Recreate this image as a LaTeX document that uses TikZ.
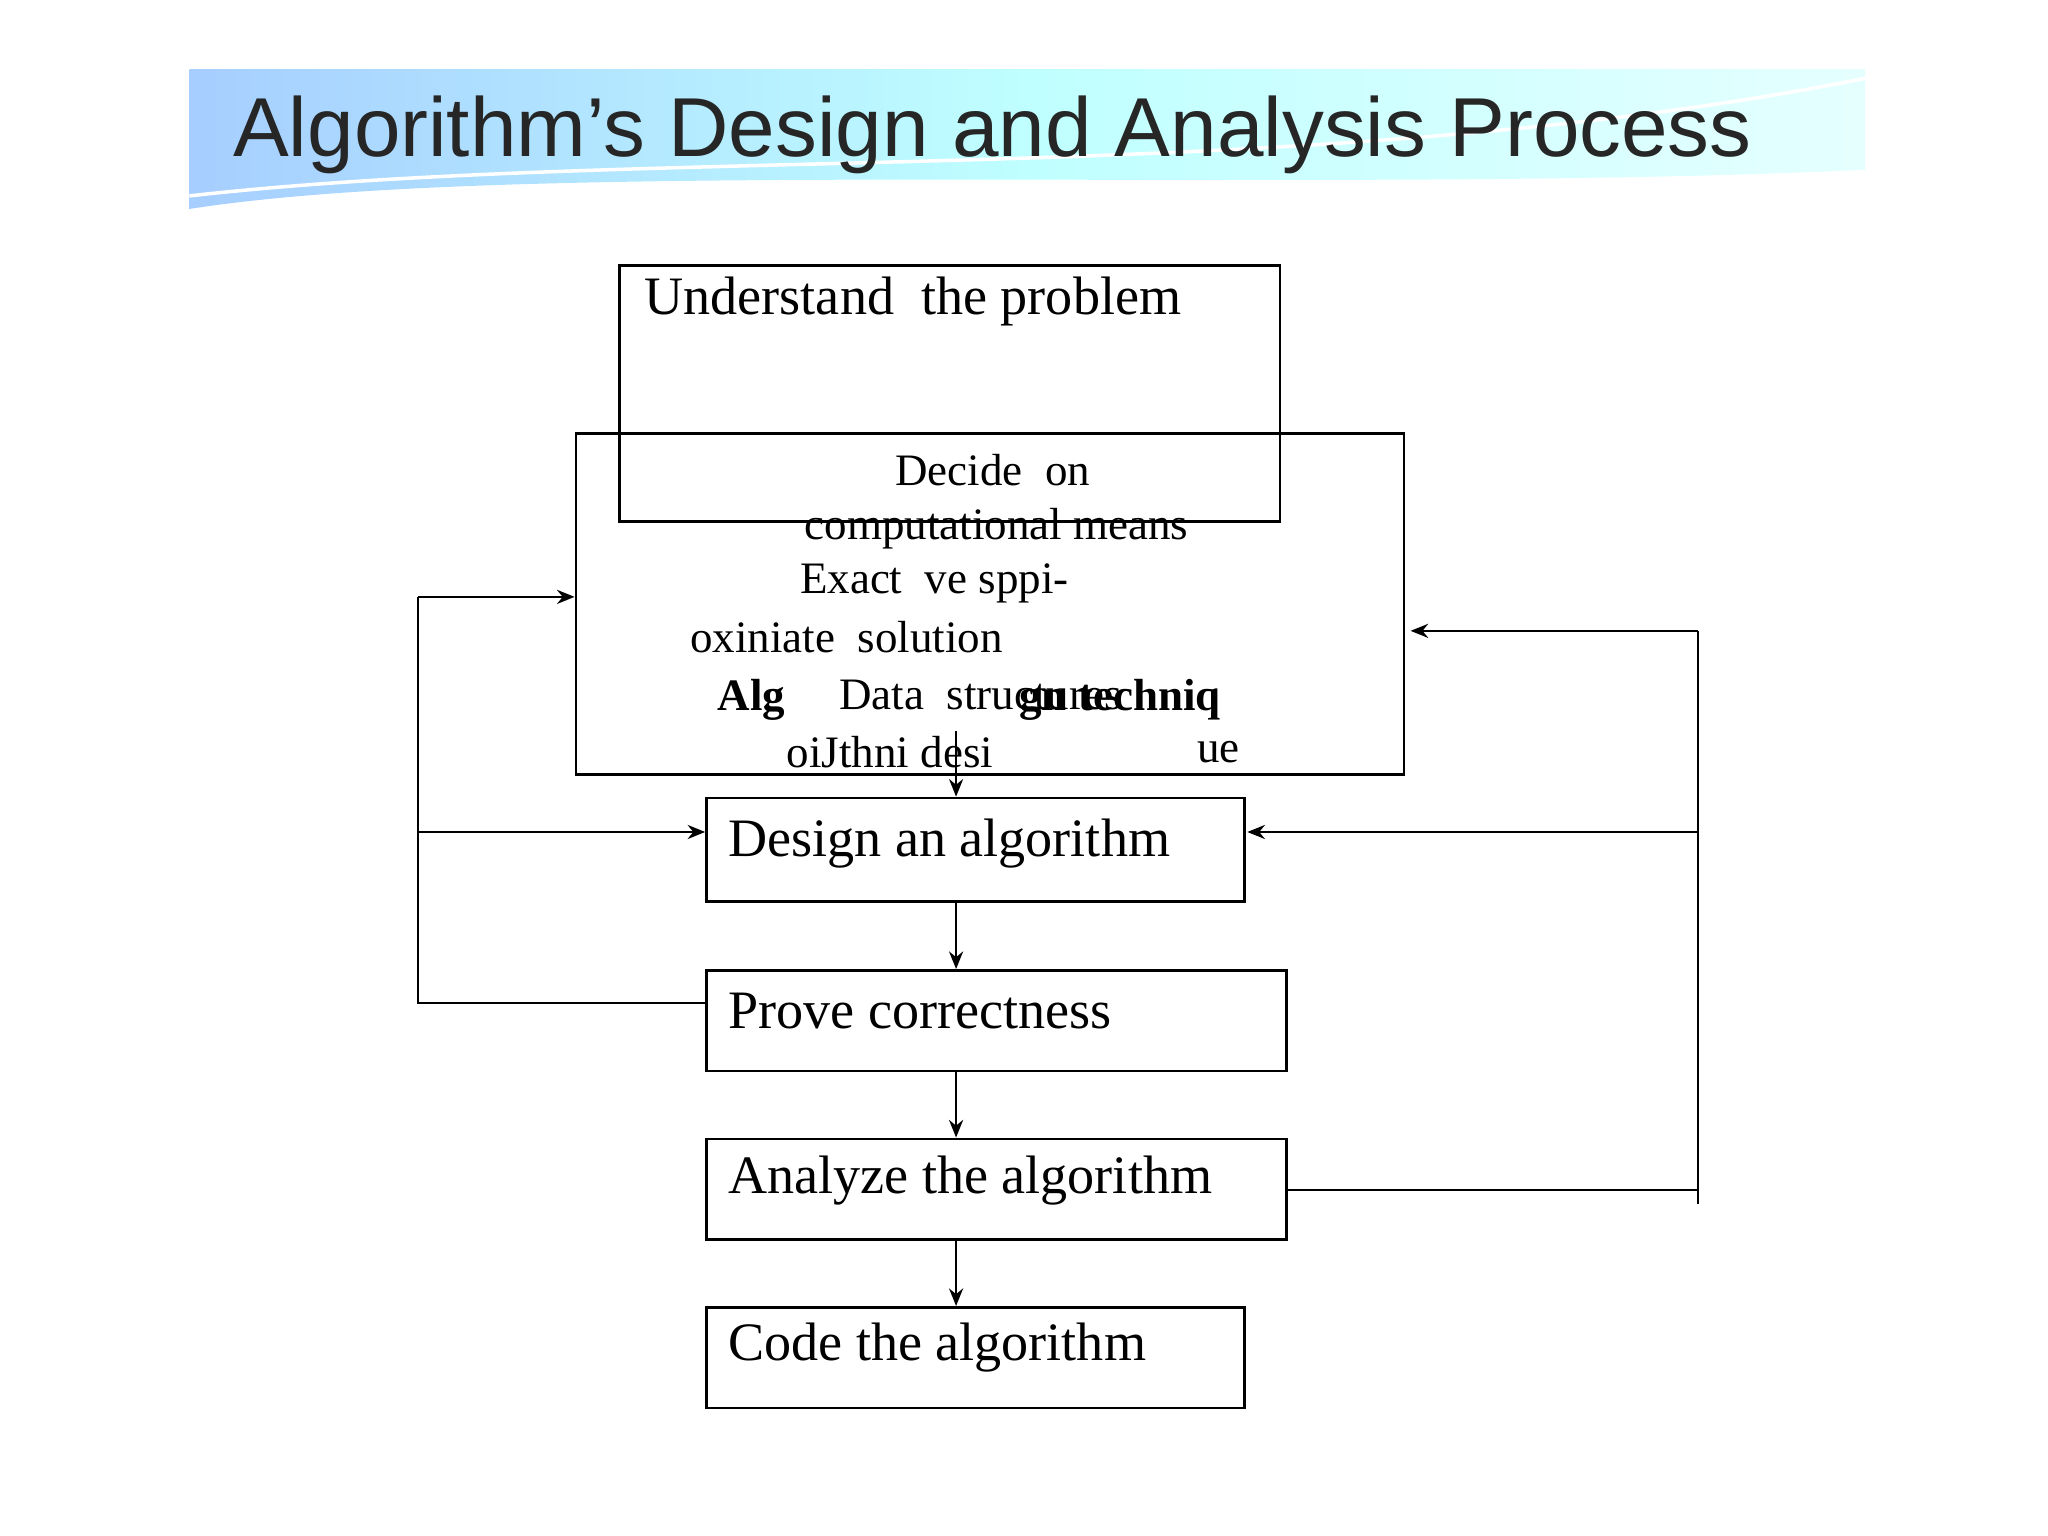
\documentclass[tikz,border=0pt]{standalone}
\usepackage{fontspec}
\setmainfont{Liberation Serif}
\newfontfamily\hdfont{Liberation Sans}
\usetikzlibrary{arrows.meta}
\begin{document}
\begin{tikzpicture}[x=0.01306cm,y=-0.01306cm,
  box/.style={draw,line width=0.8pt},
  big/.style={anchor=west,font=\fontsize{15.4}{17}\selectfont,inner sep=0},
  sml/.style={font=\fontsize{12.8}{14}\selectfont,inner sep=0},
  arr/.style={-{Stealth[length=5pt,width=4pt]},line width=0.7pt},
  ln/.style={line width=0.7pt}]
\useasboundingbox (0,0) rectangle (1568,1176);
% header
\shade[left color=cyan!45!blue!35,right color=cyan!10,middle color=cyan!25]
  (145,53) -- (1428,53) -- (1428,130) .. controls (1000,150) and (400,120) .. (145,160) -- cycle;
\draw[white,line width=1pt] (145,150) .. controls (500,110) and (1000,145) .. (1428,60);
\node[font=\hdfont\fontsize{23.8}{26}\selectfont,text=black!85,anchor=west,inner sep=0] (title) at (178,103) {Algorithm’s Design and Analysis Process};
% boxes
\node[box,minimum width=506*0.01306cm,minimum height=196*0.01306cm] (und) at (727,301) {};
\node[box,minimum width=634*0.01306cm,minimum height=261*0.01306cm] (dec) at (758,462.5) {};
\node[box,minimum width=412*0.01306cm,minimum height=79*0.01306cm] (des) at (747,650.5) {};
\node[box,minimum width=444*0.01306cm,minimum height=77*0.01306cm] (pro) at (763,781.5) {};
\node[box,minimum width=444*0.01306cm,minimum height=77*0.01306cm] (ana) at (763,910.5) {};
\node[box,minimum width=412*0.01306cm,minimum height=77*0.01306cm] (cod) at (747,1039.5) {};
% texts
\node[big] (t1) at (493,231) {Understand\ \ the problem};
\node[big] (t2) at (557,646) {Design an algorithm};
\node[big] (t3) at (557,774) {Prove correctness};
\node[big] (t4) at (557,904) {Analyze the algorithm};
\node[big] (t5) at (557,1032) {Code the algorithm};
\node[sml] (d1) at (760,360) {Decide\ \ on};
\node[sml] (d2) at (763,405) {computational means};
\node[sml,anchor=west] (d3) at (612,447) {Exact\ \ ve sppi-};
\node[sml,anchor=west] (d4) at (528,488) {oxiniate\ \ solution};
\node[sml,anchor=west,font=\bfseries\fontsize{12.8}{14}\selectfont] (d5) at (549,536) {Alg};
\node[sml,anchor=west] (d6) at (642,532) {Data\ \ structures};
\node[sml,anchor=west,font=\bfseries\fontsize{12.8}{14}\selectfont] (d7) at (780,536) {gn techniq};
\node[sml,anchor=west] (d8) at (602,576) {oiJthni desi};
\node[sml,anchor=west] (d9) at (916,576) {ue};
% arrows
\coordinate (s0) at (732,560);
\draw[arr] (s0) -- (des.north -| s0);
\draw[arr] (des.south -| s0) -- (pro.north -| s0);
\draw[arr] (pro.south -| s0) -- (ana.north -| s0);
\draw[arr] (ana.south -| s0) -- (cod.north -| s0);
\coordinate (l1) at (320,768); \coordinate (l2) at (320,457); \coordinate (l3) at (320,637);
\draw[ln] (pro.west |- l1) -- (l1) -- (l2);
\draw[arr] (l2) -- (dec.west |- l2);
\draw[arr] (l3) -- (des.west |- l3);
\coordinate (r1) at (1300,911); \coordinate (r2) at (1300,483); \coordinate (r3) at (1300,637); \coordinate (r4) at (1300,922);
\coordinate (r5) at (1080,483); \coordinate (r6) at (955,637);
\draw[ln] (ana.east |- r1) -- (r1);
\draw[ln] (r4) -- (r2);
\draw[arr] (r2) -- (r5);
\draw[arr] (r3) -- (r6);
\end{tikzpicture}
\end{document}
